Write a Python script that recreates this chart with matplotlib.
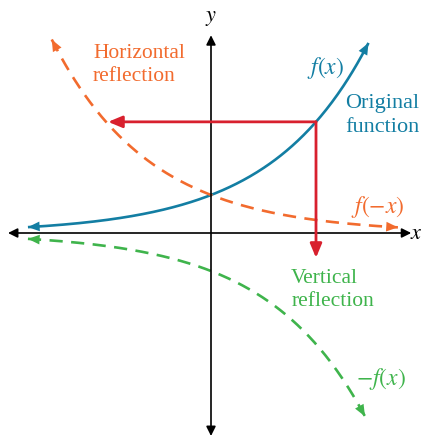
import numpy as np
import matplotlib.pyplot as plt

# f(x) = a * b**x (1 unit = 35 px)
coef = 1.086
base = 1.43
x_start = -5.23          # left end of f(x) and -f(x)
x_end_f = 4.5            # arrow tip of f(x)
x_end_neg = 4.4          # arrow tip of -f(x)
x_left_mirror = -4.55    # arrow tip of f(-x)
x_right_mirror = 5.34    # right end of f(-x)

# red guide arrows
point_x = 3.0
horiz_tip_x = -2.94
vert_tip_y = -0.71

BLUE = '#137ea3'
ORANGE = '#f26b2e'
RED = '#d8202e'
GREEN = '#3fb44c'

HEAD = '-|>,head_length=0.6,head_width=0.25'


def f(x):
    return coef * base ** x


def curve(ax, xs, ys, color, style, heads):
    ax.plot(xs, ys, color=color, lw=1.9, ls=style, dashes=(5, 3.2) if style == '--' else (None, None),
            solid_capstyle='butt')
    for i in heads:
        j = i - 8 if i != 0 else 8
        ax.annotate('', xy=(xs[i], ys[i]), xytext=(xs[j], ys[j]),
                    arrowprops=dict(arrowstyle=HEAD, color=color, lw=0, mutation_scale=14,
                                    shrinkA=0, shrinkB=0))


fig = plt.figure(figsize=(4.23, 4.37), dpi=100)
ax = fig.add_axes([0, 0, 1, 1])
ax.set_xlim(-211 / 35, 212 / 35)
ax.set_ylim(-204 / 35, 233 / 35)
ax.axis('off')

# axes with arrows
ax.annotate('', xy=(-5.8, 0), xytext=(5.72, 0),
            arrowprops=dict(arrowstyle='<|-|>', color='black', lw=1.2, mutation_scale=14,
                            shrinkA=0, shrinkB=0))
ax.annotate('', xy=(0, 5.65), xytext=(0, -5.8),
            arrowprops=dict(arrowstyle='<|-|>', color='black', lw=1.2, mutation_scale=14,
                            shrinkA=0, shrinkB=0))
ax.text(5.87, 0, '$x$', fontsize=16, ha='center', va='center', math_fontfamily='stix')
ax.text(0, 6.15, '$y$', fontsize=16, ha='center', va='center', math_fontfamily='stix')

# original function
xs = np.linspace(x_start, x_end_f, 300)
curve(ax, xs, f(xs), BLUE, '-', [0, -1])

# horizontal reflection f(-x)
xs = np.linspace(x_left_mirror, x_right_mirror, 300)
curve(ax, xs, f(-xs), ORANGE, '--', [0, -1])

# vertical reflection -f(x)
xs = np.linspace(x_start, x_end_neg, 300)
curve(ax, xs, -f(xs), GREEN, '--', [0, -1])

# red guide arrows
py = f(point_x)
ax.annotate('', xy=(horiz_tip_x, py), xytext=(point_x, py),
            arrowprops=dict(arrowstyle=HEAD, color=RED, lw=2.0, mutation_scale=14,
                            shrinkA=0, shrinkB=0))
ax.annotate('', xy=(point_x, vert_tip_y), xytext=(point_x, py),
            arrowprops=dict(arrowstyle=HEAD, color=RED, lw=2.0, mutation_scale=14,
                            shrinkA=0, shrinkB=0))

serif = 'Liberation Serif'
ax.text(-3.37, 4.8, 'Horizontal\nreflection', color=ORANGE, fontsize=15.5, family=serif,
        ha='left', va='center', linespacing=1.3)
ax.text(3.26, 4.71, '$f(x)$', color=BLUE, fontsize=17, ha='center', va='center',
        math_fontfamily='stix')
ax.text(4.89, 3.37, 'Original\nfunction', color=BLUE, fontsize=16, family=serif,
        ha='center', va='center', linespacing=1.35)
ax.text(4.77, 0.74, '$f(-x)$', color=ORANGE, fontsize=17, ha='center', va='center',
        math_fontfamily='stix')
ax.text(2.29, -1.63, 'Vertical\nreflection', color=GREEN, fontsize=15.5, family=serif,
        ha='left', va='center', linespacing=1.35)
ax.text(4.86, -4.17, '$-f(x)$', color=GREEN, fontsize=17, ha='center', va='center',
        math_fontfamily='stix')

fig.savefig('out.png', dpi=100)
